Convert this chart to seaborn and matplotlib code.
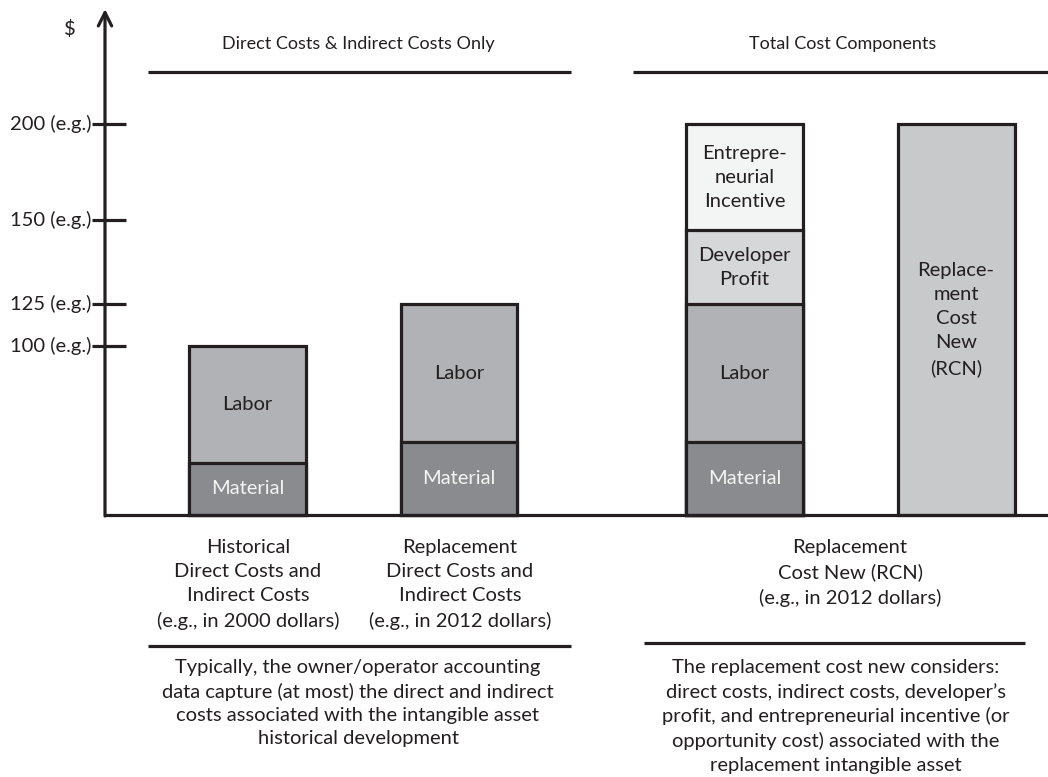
import numpy as np
import pandas as pd
import matplotlib
matplotlib.use("Agg")
import matplotlib.pyplot as plt
from matplotlib import transforms
import seaborn as sns

# ---------------------------------------------------------------- data
hist_components = ["Material", "Labor"]
hist_values = [31, 69]

repl_components = ["Material", "Labor"]
repl_values = [43, 82]

rcn_components = ["Material", "Labor", "Developer Profit", "Entrepreneurial Incentive"]
rcn_values = [43, 82, 22, 53]

rcn_total_components = ["Replacement Cost New (RCN)"]
rcn_total_values = [200]

segment_text = {
    "Material": "Material",
    "Labor": "Labor",
    "Developer Profit": "Developer\nProfit",
    "Entrepreneurial Incentive": "Entrepre-\nneurial\nIncentive",
    "Replacement Cost New (RCN)": "Replace-\nment\nCost\nNew\n(RCN)",
}

tick_values = [100, 125, 150, 200]
tick_labels = ["100 (e.g.)", "125 (e.g.)", "150 (e.g.)", "200 (e.g.)"]

hist_caption = "Historical\nDirect Costs and\nIndirect Costs\n(e.g., in 2000 dollars)"
repl_caption = "Replacement\nDirect Costs and\nIndirect Costs\n(e.g., in 2012 dollars)"
rcn_caption = "Replacement\nCost New (RCN)\n(e.g., in 2012 dollars)"
left_header = "Direct Costs & Indirect Costs Only"
right_header = "Total Cost Components"
left_note = ("Typically, the owner/operator accounting\n"
             "data capture (at most) the direct and indirect\n"
             "costs associated with the intangible asset\n"
             "historical development")
right_note = ("The replacement cost new considers:\n"
              "direct costs, indirect costs, developer\u2019s\n"
              "profit, and entrepreneurial incentive (or\n"
              "opportunity cost) associated with the\n"
              "replacement intangible asset")

# ---------------------------------------------------------------- styling
ink = "#231f20"
fill = {
    "Material": "#8a8b8e",
    "Labor": "#b1b2b5",
    "Developer Profit": "#d6d7d9",
    "Entrepreneurial Incentive": "#f3f4f4",
    "Replacement Cost New (RCN)": "#c8c9cb",
}
text_color = {k: ink for k in fill}
text_color["Material"] = "#f4f4f4"

sns.set_theme(style="white")
plt.rcParams["font.family"] = ["Lato", "DejaVu Sans"]
FS = 14.5

W, H = 1048, 777
fig = plt.figure(figsize=(W / 100, H / 100), dpi=100)
ax = fig.add_axes([0, 0, 1, 1])

# schematic (non-proportional) dollar axis: value -> drawn height
knot_vals = [-400, 0, 100, 125, 150, 200, 400]
knot_h = [-676, 0, 169, 211, 295, 391, 783]


def fwd(v):
    return np.interp(v, knot_vals, knot_h)


def inv(h):
    return np.interp(h, knot_h, knot_vals)


# bar slots along x (one unit = bar spacing inside a group)
slots = [0.0, 1.0, 2.35, 3.35]
bar_w = 0.553

records = []
for slot, comps, vals in zip(
    slots,
    [hist_components, repl_components, rcn_components, rcn_total_components],
    [hist_values, repl_values, rcn_values, rcn_total_values],
):
    tops = np.cumsum(vals)
    bottoms = tops - np.array(vals)
    for c, v, b, t in zip(comps, vals, bottoms, tops):
        records.append(dict(slot=slot, component=c, value=v, bottom=b, top=t))
df = pd.DataFrame(records)

# stacked bars: draw cumulative heights from the top segment down
for slot, grp in df.groupby("slot", sort=False):
    for _, r in grp.iloc[::-1].iterrows():
        sns.barplot(x=[r["slot"]], y=[r["top"]], native_scale=True, width=bar_w,
                    color=fill[r["component"]], saturation=1, edgecolor=ink,
                    linewidth=2.3, errorbar=None, ax=ax)

ax.set_yscale("function", functions=(fwd, inv))

# map pixel frame onto the data limits
px_per_unit = 211.5
x0_px = 247.5
ax.set_xlim(-x0_px / px_per_unit, (W - x0_px) / px_per_unit)
base_px = 515
ax.set_ylim(inv(-(H - base_px)), inv(base_px))
ax.set_axis_off()

# segment labels
for _, r in df.iterrows():
    ymid = inv((fwd(r["bottom"]) + fwd(r["top"])) / 2)
    ax.text(r["slot"], ymid, segment_text[r["component"]], ha="center", va="center",
            fontsize=FS, color=text_color[r["component"]], linespacing=1.5)


def fx(px):
    return px / W


def fy(py):
    return 1 - py / H


blend = transforms.blended_transform_factory(ax.transAxes, ax.transData)

# axes: baseline and vertical arrow
ax.plot([fx(105), 1.0], [0, 0], transform=blend, color=ink, lw=2.3,
        solid_capstyle="butt", clip_on=False)
ax.annotate("", xy=(fx(105), fy(9)), xytext=(fx(105), fy(base_px + 1)),
            xycoords="axes fraction", textcoords="axes fraction",
            arrowprops=dict(arrowstyle="->", lw=2.3, color=ink, mutation_scale=24,
                            shrinkA=0, shrinkB=0))
ax.text(fx(70), fy(29), "$", transform=ax.transAxes, ha="center", va="center",
        fontsize=FS, color=ink)

for v, lab in zip(tick_values, tick_labels):
    ax.plot([fx(92), fx(126)], [v, v], transform=blend, color=ink, lw=2.3,
            solid_capstyle="butt")
    ax.text(fx(91), v, lab, transform=blend, ha="right", va="center",
            fontsize=FS, color=ink)

# headers
for txt, cx, x1, x2 in [(left_header, 358, 148, 571), (right_header, 843, 633, 1048)]:
    ax.text(fx(cx), fy(44), txt, transform=ax.transAxes, ha="center", va="center",
            fontsize=FS - 1.5, color=ink)
    ax.plot([fx(x1), fx(x2)], [fy(72), fy(72)], transform=ax.transAxes, color=ink,
            lw=2.3, solid_capstyle="butt")

# captions under the bars
for txt, cx in [(hist_caption, 248), (repl_caption, 460), (rcn_caption, 850)]:
    ax.text(fx(cx), fy(539), txt, transform=ax.transAxes, ha="center", va="top",
            fontsize=FS, color=ink, linespacing=1.5)

ax.plot([fx(148), fx(571)], [fy(646), fy(646)], transform=ax.transAxes, color=ink,
        lw=2.3, solid_capstyle="butt")
ax.plot([fx(644), fx(1025)], [fy(643), fy(643)], transform=ax.transAxes, color=ink,
        lw=2.3, solid_capstyle="butt")

ax.text(fx(358), fy(659), left_note, transform=ax.transAxes, ha="center", va="top",
        fontsize=FS, color=ink, linespacing=1.45)
ax.text(fx(836), fy(659), right_note, transform=ax.transAxes, ha="center", va="top",
        fontsize=FS, color=ink, linespacing=1.45)

fig.savefig("out.png", dpi=100, facecolor="white")
